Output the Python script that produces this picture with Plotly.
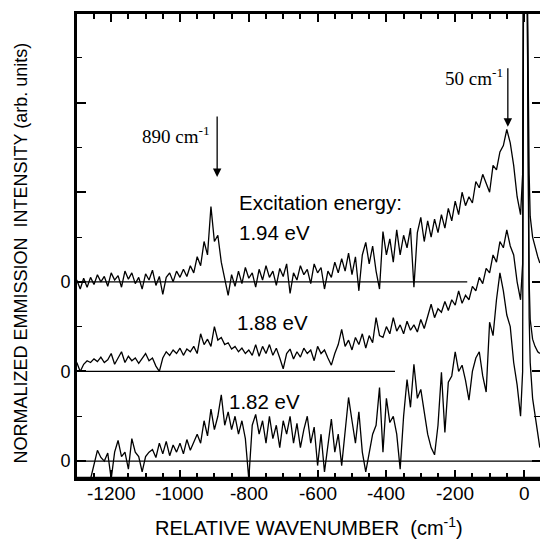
import plotly.graph_objects as go

# ---- data -------------------------------------------------------------
wavenumber = [
    -1300, -1290, -1280, -1270, -1260, -1250, -1240, -1230, -1220, -1210,
    -1200, -1190, -1180, -1170, -1160, -1150, -1140, -1130, -1120, -1110,
    -1100, -1090, -1080, -1070, -1060, -1050, -1040, -1030, -1020, -1010,
    -1000, -990, -980, -970, -960, -950, -940, -930, -920, -910,
    -900, -890, -880, -870, -860, -850, -840, -830, -820, -810,
    -800, -790, -780, -770, -760, -750, -740, -730, -720, -710,
    -700, -690, -680, -670, -660, -650, -640, -630, -620, -610,
    -600, -590, -580, -570, -560, -550, -540, -530, -520, -510,
    -500, -490, -480, -470, -460, -450, -440, -430, -420, -410,
    -400, -390, -380, -370, -360, -350, -340, -330, -320, -310,
    -300, -290, -280, -270, -260, -250, -240, -230, -220, -210,
    -200, -190, -180, -170, -160, -150, -140, -130, -120, -110,
    -100, -90, -80, -70, -60, -50, -40, -30, -20, -10,
]
wn_laser = [-4, -1, 8, 15, 18, 25, 32, 40, 46]

# 1.94 eV (relative to its own zero line)
int_194 = [
    0.02, -0.08, 0.04, -0.06, 0.05, -0.03, 0.08, 0.0, 0.06, -0.05,
    0.10, 0.02, 0.07, -0.06, 0.12, 0.03, 0.10, -0.02, 0.05, -0.08,
    0.09, 0.02, 0.13, -0.04, 0.06, -0.14, 0.05, 0.10, 0.0, 0.12,
    0.05, 0.14, 0.06, 0.18, 0.10, 0.28, 0.18, 0.45, 0.30, 0.84,
    0.45, 0.52, 0.22, 0.05, -0.15, 0.08, -0.05, 0.12, -0.02, 0.16,
    0.04, 0.10, -0.06, 0.14, 0.02, 0.18, 0.05, 0.12, -0.04, 0.15,
    0.06, 0.20, -0.13, 0.10, 0.02, 0.18, 0.08, 0.14, -0.02, 0.20,
    0.10, 0.16, -0.08, 0.12, 0.05, 0.22, 0.10, 0.26, 0.12, 0.32,
    0.08, 0.28, -0.10, 0.30, 0.44, 0.20, 0.40, 0.12, -0.08, 0.56,
    0.30, 0.48, 0.22, 0.58, 0.30, 0.52, 0.38, 0.60, -0.06, 0.55,
    0.72, 0.45, 0.68, 0.50, 0.70, 0.55, 0.75, 0.60, 0.82, 0.68,
    0.90, 0.75, 1.00, 0.85, 0.95, 0.88, 1.12, 1.05, 1.20, 1.10,
    1.00, 1.30, 1.25, 1.45, 1.52, 1.70, 1.55, 1.30, 0.95, 0.75,
]
laser_194 = [1.2, 4.0, 4.0, 1.2, 0.73, 0.5, 0.39, 0.28, 0.21]

# 1.88 eV
int_188 = [
    0.10, 0.0, 0.08, 0.12, 0.10, 0.14, 0.11, 0.16, 0.10, 0.13,
    0.20, 0.08, 0.15, 0.22, 0.10, 0.17, 0.12, 0.15, 0.09, 0.14,
    0.20, 0.12, 0.15, 0.06, 0.0, 0.15, 0.22, 0.18, 0.24, 0.20,
    0.26, 0.18, 0.25, 0.22, 0.28, 0.20, 0.42, 0.30, 0.36, 0.28,
    0.50, 0.35, 0.38, 0.30, 0.32, 0.25, 0.28, 0.22, 0.26, 0.20,
    0.24, 0.18, 0.30, 0.17, 0.28, 0.20, 0.30, 0.18, 0.26, 0.15,
    0.03, 0.20, 0.25, 0.14, 0.22, 0.16, 0.26, 0.20, 0.24, 0.12,
    0.28, 0.20, 0.24, 0.15, 0.07, 0.20, 0.30, 0.47, 0.28, 0.35,
    0.24, 0.38, 0.30, 0.42, 0.26, 0.40, 0.32, 0.60, 0.40, 0.38,
    0.50, 0.42, 0.60, 0.45, 0.52, 0.42, 0.56, 0.46, 0.52, 0.44,
    0.58, 0.48, 0.62, 0.75, 0.60, 0.70, 0.66, 0.78, 0.68, 0.80,
    0.74, 0.90, 0.76, 0.85, 0.80, 0.95, 0.90, 1.05, 0.98, 1.15,
    1.10, 1.30, 1.22, 1.45, 1.38, 1.58, 1.40, 1.30, 1.00, 0.80,
]
laser_188 = [1.2, 5.0, 5.0, 1.0, 0.58, 0.36, 0.28, 0.22, 0.2]

# 1.82 eV (starts at -1260)
int_182 = [
    None, None, None, None,
    -0.2, -0.05, 0.12, 0.04, 0.0, 0.09,
    -0.2, 0.10, 0.23, 0.05, 0.10, -0.09, 0.25, 0.10, 0.05, -0.12,
    0.05, 0.10, 0.13, 0.04, 0.20, 0.08, 0.22, 0.06, 0.18, 0.10,
    0.20, 0.08, 0.24, 0.12, 0.22, 0.30, 0.20, 0.45, 0.28, 0.58,
    0.35, 0.50, 0.74, 0.40, 0.55, 0.35, 0.50, 0.30, 0.45, 0.25,
    -0.2, 0.40, 0.52, 0.30, 0.45, 0.20, 0.50, 0.25, 0.40, 0.15,
    0.45, 0.30, 0.50, 0.20, 0.42, 0.15, 0.35, 0.50, 0.20, 0.38,
    -0.05, 0.30, -0.12, 0.20, 0.47, 0.10, 0.30, -0.05, 0.35, 0.71,
    0.45, 0.20, 0.55, 0.10, -0.12, 0.10, 0.30, 0.40, 0.82, 0.10,
    0.70, 0.43, 0.50, 0.30, -0.09, 0.50, 0.91, 0.60, 1.08, 0.70,
    0.80, 0.55, 0.30, 0.15, 0.07, 0.40, 0.99, 0.32, 0.88, 0.95,
    1.22, 1.00, 1.07, 0.90, 0.68, 1.00, 1.15, 1.22, 0.95, 0.77,
    1.55, 1.40, 1.80, 2.10, 1.90, 1.63, 1.50, 1.10, 0.85, 0.50,
]
laser_182 = [1.0, 6.0, 6.0, 1.6, 1.1, 0.7, 0.5, 0.3, 0.15]

series = [
    ("1.94 eV", int_194, laser_194, 2, -165),
    ("1.88 eV", int_188, laser_188, 1, -375),
    ("1.82 eV", int_182, laser_182, 0, 46.5),
]

x_major = [-1200, -1000, -800, -600, -400, -200, 0]
x_major_text = ["-1200", "-1000", "-800", "-600", "-400", "-200", "0"]

XMIN, XMAX = -1302.3, 46.5
YMIN, YMAX = -0.2, 5.0

FONT = "Liberation Sans, Arial, Helvetica, sans-serif"
SERIF = "Liberation Serif, Times New Roman, serif"

fig = go.Figure()
for name, vals, laser, off, base_end in series:
    xs = wavenumber + wn_laser
    ys = [None if v is None else v + off for v in vals] + [v + off for v in laser]
    fig.add_trace(go.Scatter(x=xs, y=ys, mode="lines", name=name,
                             line=dict(color="black", width=1.3),
                             connectgaps=False, showlegend=False, hoverinfo="skip"))
    fig.add_trace(go.Scatter(x=[XMIN, base_end], y=[off, off], mode="lines",
                             line=dict(color="black", width=1.3),
                             showlegend=False, hoverinfo="skip"))

# bottom frame line as a data line along the lower edge of the plot
fig.add_trace(go.Scatter(x=[XMIN, XMAX], y=[YMIN + 0.012, YMIN + 0.012], mode="lines",
                         line=dict(color="black", width=2.2),
                         showlegend=False, hoverinfo="skip"))

# invisible helper traces so the top (x2) and right (y2) tick axes are drawn
fig.add_trace(go.Scatter(x=[XMIN], y=[0], xaxis="x2", yaxis="y", mode="markers",
                         marker=dict(opacity=0), showlegend=False, hoverinfo="skip"))
fig.add_trace(go.Scatter(x=[XMIN], y=[0], xaxis="x", yaxis="y2", mode="markers",
                         marker=dict(opacity=0), showlegend=False, hoverinfo="skip"))

x_tick_common = dict(range=[XMIN, XMAX], tickmode="linear", tick0=0, dtick=200,
                     ticks="inside", ticklen=9, tickwidth=1.8, tickcolor="black",
                     minor=dict(tickmode="linear", tick0=0, dtick=50, ticks="inside",
                                ticklen=6, tickwidth=1.5, tickcolor="black"),
                     showline=True, linewidth=2, linecolor="black",
                     showgrid=False, zeroline=False, showticklabels=False)
y_tick_common = dict(range=[YMIN, YMAX], tickvals=[0, 1, 2, 3, 4],
                     ticks="inside", tickwidth=1.5, tickcolor="black",
                     minor=dict(tickmode="linear", tick0=0.5, dtick=1, ticks="inside",
                                ticklen=6, tickwidth=1.3, tickcolor="black"),
                     showgrid=False, zeroline=False)

fig.update_layout(
    width=540, height=544,
    margin=dict(l=76, r=0, t=13, b=65),
    paper_bgcolor="white", plot_bgcolor="white",
    font=dict(family=FONT, color="black"),
    xaxis=dict(**x_tick_common, side="bottom"),
    xaxis2=dict(**x_tick_common, side="top", overlaying="x", anchor="y"),
    yaxis=dict(**y_tick_common, ticklen=10, ticktext=["0", "0", "0", "", ""],
               showline=True, linewidth=2, linecolor="black",
               tickfont=dict(size=18, family=FONT)),
    yaxis2=dict(**y_tick_common, ticklen=8, overlaying="y", side="right", anchor="x",
                showline=False, showticklabels=False),
)

# frame lines (left, bottom, top)
for x0, y0, x1, y1 in [(0, 0, 0, 1), (0, 0, 1, 0), (0, 1, 1, 1)]:
    fig.add_shape(type="line", xref="paper", yref="paper", x0=x0, y0=y0, x1=x1, y1=y1,
                  line=dict(color="black", width=2), layer="above")

annotations = [
    # axis titles
    dict(text="RELATIVE WAVENUMBER  (cm<sup>-1</sup>)", xref="paper", yref="paper",
         x=0.502, y=-0.103, xanchor="center", yanchor="middle", showarrow=False,
         font=dict(size=20, family=FONT)),
    dict(text="NORMALIZED EMMISSION  INTENSITY (arb. units)", xref="paper", yref="paper",
         x=-0.1185, y=0.484, xanchor="center", yanchor="middle", textangle=-90,
         showarrow=False, font=dict(size=18, family=FONT)),
    # labels
    dict(text="Excitation energy:", x=-833, y=2.88, xanchor="left", yanchor="middle",
         showarrow=False, font=dict(size=20.5, family=FONT)),
    dict(text="1.94 eV", x=-833, y=2.55, xanchor="left", yanchor="middle",
         showarrow=False, font=dict(size=20.5, family=FONT)),
    dict(text="1.88 eV", x=-840, y=1.55, xanchor="left", yanchor="middle",
         showarrow=False, font=dict(size=20.5, family=FONT)),
    dict(text="1.82 eV", x=-862, y=0.66, xanchor="left", yanchor="middle",
         showarrow=False, font=dict(size=20.5, family=FONT)),
    dict(text="890 cm<sup>-1</sup>", x=-907, y=3.64, xanchor="right", yanchor="middle",
         showarrow=False, font=dict(size=19, family=SERIF)),
    dict(text="50 cm<sup>-1</sup>", x=-55, y=4.29, xanchor="right", yanchor="middle",
         showarrow=False, font=dict(size=19, family=SERIF)),
    # arrows
    dict(text="", x=-892, y=3.17, ax=0, ay=-62, showarrow=True, arrowhead=2,
         arrowsize=1.3, arrowwidth=1.3, arrowcolor="black"),
    dict(text="", x=-47, y=3.73, ax=0, ay=-60, showarrow=True, arrowhead=2,
         arrowsize=1.3, arrowwidth=1.3, arrowcolor="black"),
]
# x tick labels (hyphen-minus as in the original)
for v, t in zip(x_major, x_major_text):
    annotations.append(dict(text=t, x=v, xref="x", y=-0.032, yref="paper",
                            xanchor="center", yanchor="middle", showarrow=False,
                            font=dict(size=19, family=FONT)))
fig.update_layout(annotations=annotations)

fig.write_html("out.html", config={"displayModeBar": False},
               post_script="document.body.style.margin='0';document.body.style.padding='0';")
